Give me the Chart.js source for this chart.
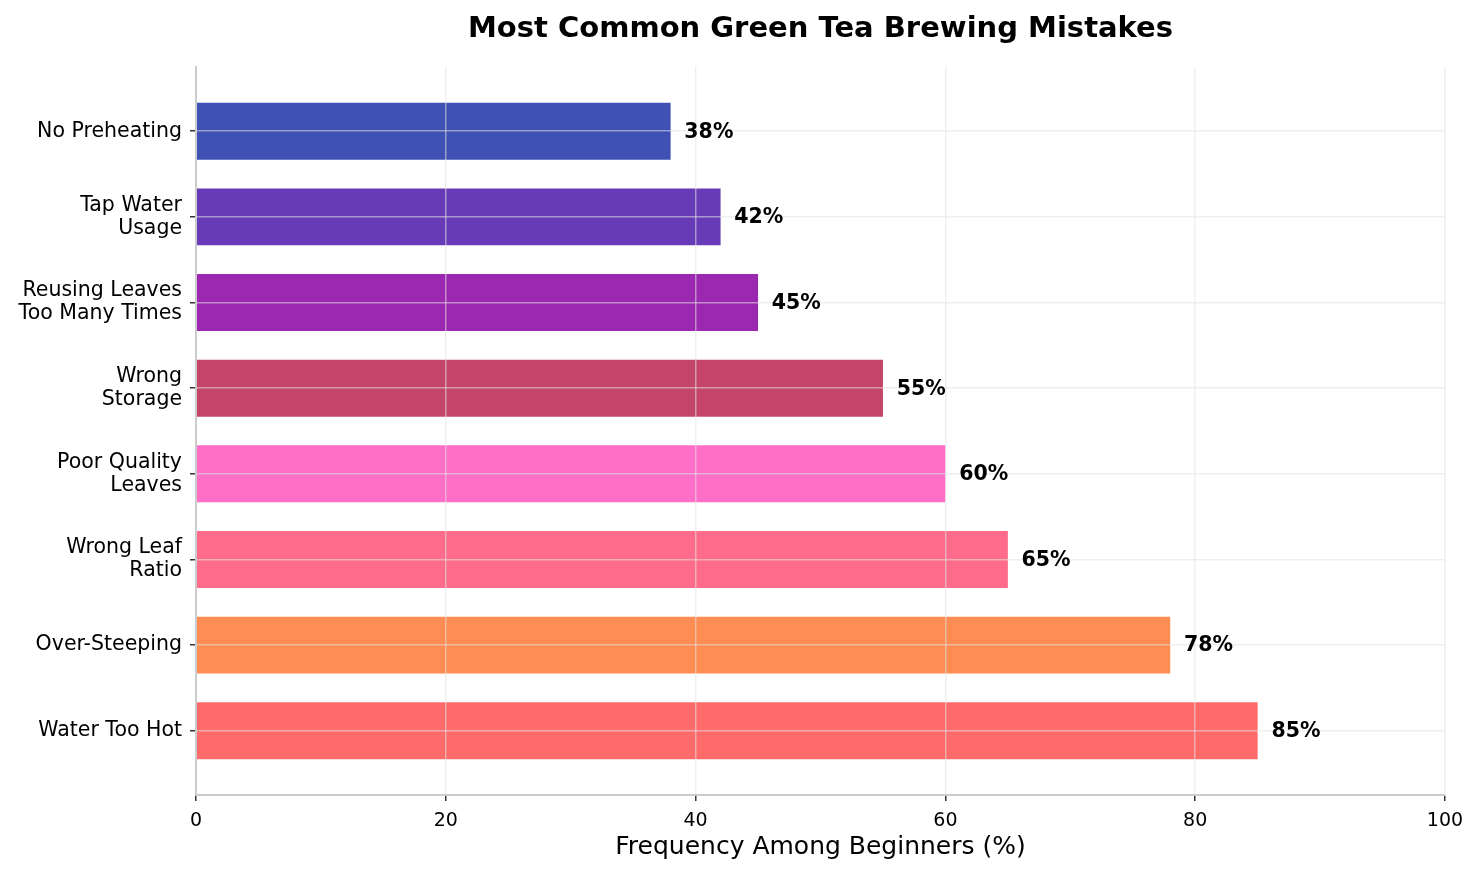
<!DOCTYPE html>
<html lang="en">
<head>
  <meta charset="UTF-8" />
  <title>Most Common Green Tea Brewing Mistakes</title>
  <script src="https://cdn.jsdelivr.net/npm/chart.js"></script>
  <style>
    body {
      margin: 0;
      background-color: #ffffff;
    }
    #wrap {
      position: relative;
      width: 1481px;
      height: 876px;
    }
  </style>
</head>
<body>
  <div id="wrap">
    <canvas id="chart"></canvas>
  </div>

  <script>
    // top-down order, as shown in the picture
    const categories = [
      "No Preheating",
      ["Tap Water", "Usage"],
      ["Reusing Leaves", "Too Many Times"],
      ["Wrong", "Storage"],
      ["Poor Quality", "Leaves"],
      ["Wrong Leaf", "Ratio"],
      "Over-Steeping",
      "Water Too Hot"
    ];
    const frequency = [38, 42, 45, 55, 60, 65, 78, 85];
    const barColors = ["#3F51B5", "#673AB7", "#9C27B0", "#C44569", "#FF6EC7", "#FF6B8B", "#FF8C52", "#FF6B6B"];
    const xTicks = [0, 20, 40, 60, 80, 100];

    const font = "'DejaVu Sans', sans-serif";

    // title centred over the plot area, and the % labels after each bar
    const extras = {
      id: "extras",
      afterDraw(chart) {
        const ctx = chart.ctx;
        const area = chart.chartArea;
        const xs = chart.scales.x;
        const ys = chart.scales.y;
        ctx.save();
        ctx.fillStyle = "#000";
        ctx.textAlign = "center";
        ctx.textBaseline = "middle";
        ctx.font = "bold 29px " + font;
        ctx.fillText("Most Common Green Tea Brewing Mistakes", (area.left + area.right) / 2, 29);

        ctx.font = "bold 20.5px " + font;
        ctx.textAlign = "left";
        frequency.forEach((v, i) => {
          ctx.fillText(v + "%", xs.getPixelForValue(v + 1.1), ys.getPixelForValue(i) + 1);
        });
        ctx.restore();
      }
    };

    new Chart(document.getElementById("chart"), {
      type: "bar",
      data: {
        datasets: [{
          data: frequency.map((v, i) => ({ x: v, y: i })),
          backgroundColor: barColors,
          borderWidth: 0,
          barPercentage: 0.665,
          categoryPercentage: 1
        }]
      },
      options: {
        indexAxis: "y",
        responsive: true,
        maintainAspectRatio: false,
        animation: false,
        layout: {
          padding: { top: 67, right: 36, bottom: 0, left: 0 }
        },
        plugins: {
          legend: { display: false },
          tooltip: { enabled: false },
          title: { display: false }
        },
        scales: {
          x: {
            type: "linear",
            min: 0,
            max: 100,
            offset: false,
            afterBuildTicks: s => { s.ticks = xTicks.map(v => ({ value: v })); },
            ticks: {
              color: "#000",
              padding: 9,
              font: { family: font, size: 19 }
            },
            grid: {
              z: 1,
              offset: false,
              color: "rgba(225,225,225,0.55)",
              lineWidth: 1.5,
              tickColor: "#333",
              tickLength: 6
            },
            border: { z: 2, color: "#cccccc", width: 2 },
            title: {
              display: true,
              text: "Frequency Among Beginners (%)",
              color: "#000",
              font: { family: font, size: 25 },
              padding: { top: 0, bottom: 14 }
            },
            afterFit: s => { s.height = 81; }
          },
          y: {
            type: "linear",
            reverse: true,
            min: -0.75,
            max: 7.75,
            offset: false,
            afterBuildTicks: s => { s.ticks = categories.map((c, i) => ({ value: i })); },
            ticks: {
              color: "#000",
              padding: 8,
              font: { family: font, size: 20.5, lineHeight: 1.12 },
              callback: v => categories[v]
            },
            grid: {
              z: 1,
              offset: false,
              color: "rgba(225,225,225,0.55)",
              lineWidth: 1.5,
              tickColor: "#333",
              tickLength: 6
            },
            border: { z: 2, color: "#cccccc", width: 2 },
            afterFit: s => { s.width = 196; }
          }
        }
      },
      plugins: [extras]
    });
  </script>
</body>
</html>
